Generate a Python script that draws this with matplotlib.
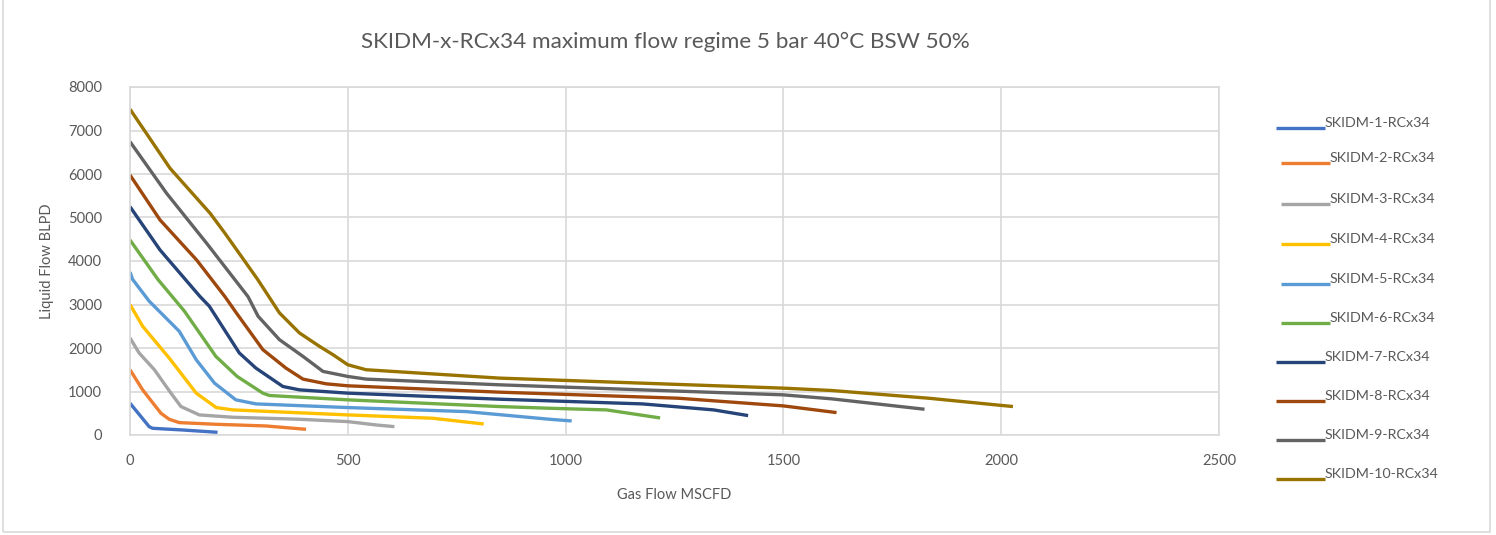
import matplotlib
matplotlib.use("Agg")
import matplotlib.pyplot as plt
from matplotlib.lines import Line2D
from matplotlib.patches import Rectangle

TITLE = "SKIDM-x-RCx34 maximum flow regime 5 bar 40°C BSW 50%"
LABELS = [f"SKIDM-{i}-RCx34" for i in range(1, 11)]
COLORS = ["#4472C4", "#ED7D31", "#A5A5A5", "#FFC000", "#5B9BD5",
          "#70AD47", "#264478", "#9E480E", "#636363", "#997300"]

# valori (gas MSCFD, liquido BLPD)
gas_1 = [0, 44, 52, 121, 201]
liq_1 = [731, 192, 154, 115, 62]

gas_2 = [0, 29, 71, 90, 113, 198, 312, 358, 404]
liq_2 = [1500, 1038, 500, 362, 285, 246, 208, 169, 131]

gas_3 = [0, 21, 56, 94, 117, 159, 236, 389, 500, 565, 607]
liq_3 = [2231, 1885, 1500, 962, 654, 462, 408, 362, 308, 231, 192]

gas_4 = [0, 29, 90, 152, 198, 236, 500, 695, 812]
liq_4 = [3000, 2500, 1769, 962, 631, 577, 462, 385, 253]

gas_5 = [0, 6, 44, 113, 152, 194, 243, 289, 500, 772, 963, 1014]
liq_5 = [3747, 3577, 3077, 2385, 1731, 1192, 808, 715, 631, 538, 362, 323]

gas_6 = [0, 64, 125, 197, 246, 305, 320, 500, 848, 963, 1094, 1217]
liq_6 = [4483, 3577, 2846, 1808, 1346, 962, 908, 808, 654, 615, 577, 392]

gas_7 = [0, 69, 161, 182, 251, 289, 351, 389, 500, 848, 1176, 1340, 1419]
liq_7 = [5248, 4253, 3180, 2962, 1885, 1538, 1115, 1038, 962, 823, 715, 577, 446]

gas_8 = [0, 69, 153, 218, 244, 305, 358, 397, 450, 500, 848, 1258, 1500, 1622]
liq_8 = [5977, 4943, 4023, 3180, 2808, 1962, 1538, 1285, 1177, 1131, 985, 846, 669, 515]

gas_9 = [0, 84, 176, 271, 294, 343, 397, 443, 500, 542, 848, 1500, 1611, 1824]
liq_9 = [6743, 5556, 4407, 3180, 2731, 2192, 1808, 1462, 1346, 1285, 1154, 923, 831, 592]

gas_10 = [0, 92, 184, 218, 293, 343, 389, 435, 466, 500, 542, 848, 1500, 1611, 1833, 2027]
liq_10 = [7490, 6130, 5096, 4637, 3577, 2808, 2346, 2038, 1846, 1615, 1500, 1308, 1077, 1023, 846, 654]

GAS = [gas_1, gas_2, gas_3, gas_4, gas_5, gas_6, gas_7, gas_8, gas_9, gas_10]
LIQ = [liq_1, liq_2, liq_3, liq_4, liq_5, liq_6, liq_7, liq_8, liq_9, liq_10]

TEXT = "#595959"
GRID = "#D9D9D9"
W, H = 1496, 535

# posizioni legenda in pixel (come nel grafico originale, spaziatura irregolare)
LEG_Y = [128, 163, 204, 244, 284, 323, 362, 401, 440, 479]
LEG_X0 = [1276, 1281, 1281, 1281, 1281, 1281, 1276, 1276, 1276, 1276]

plt.rcParams["font.family"] = ["Lato", "DejaVu Sans"]

fig = plt.figure(figsize=(W / 100, H / 100), dpi=100)
ax = fig.add_axes([130 / W, 1 - 435 / H, 1089 / W, 348 / H])

for x, y, c, lab in zip(GAS, LIQ, COLORS, LABELS):
    ax.plot(x, y, color=c, lw=2.4, label=lab, solid_capstyle="butt")

ax.set_xlim(0, 2500)
ax.set_ylim(0, 8000)
ax.set_xticks(range(0, 2501, 500))
ax.set_yticks(range(0, 8001, 1000))
ax.grid(True, color=GRID, lw=1.2)
ax.set_axisbelow(True)
for s in ax.spines.values():
    s.set_color(GRID)
    s.set_linewidth(1.2)
ax.tick_params(length=0, colors=TEXT, labelsize=10.5)
ax.tick_params(axis="x", pad=14)
ax.tick_params(axis="y", pad=20)
ax.set_xlabel("Gas Flow MSCFD", color=TEXT, fontsize=10.5, labelpad=14)
ax.set_ylabel("Liquid Flow BLPD", color=TEXT, fontsize=10.5, labelpad=10)

fig.text(665 / W, 1 - 42 / H, TITLE, ha="center", va="center",
         color=TEXT, fontsize=16.2)

for y, x0, c, lab in zip(LEG_Y, LEG_X0, COLORS, LABELS):
    fig.add_artist(Line2D([x0 / W, (x0 + 49) / W], [1 - y / H, 1 - y / H],
                          transform=fig.transFigure, color=c, lw=2.4,
                          solid_capstyle="butt"))
    fig.text((x0 + 49) / W, 1 - (y - 1) / H, lab, ha="left", va="baseline",
             color=TEXT, fontsize=10.3)

fig.patches.append(Rectangle((3 / W, 3 / H), 1487 / W, 540 / H,
                             transform=fig.transFigure, fill=False,
                             ec=GRID, lw=1.2))

fig.savefig("out.png", dpi=100)
